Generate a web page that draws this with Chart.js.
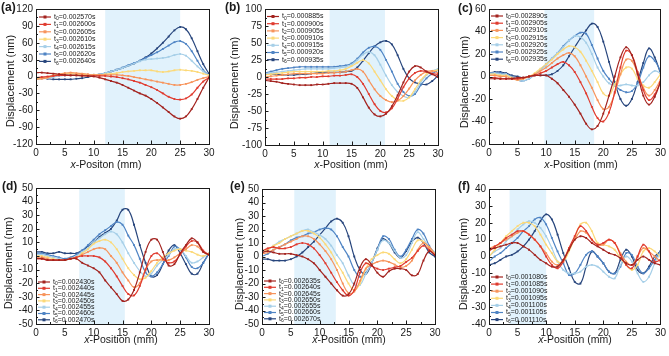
<!DOCTYPE html>
<html>
<head>
<meta charset="utf-8">
<script src="https://cdn.jsdelivr.net/npm/chart.js@4.4.1/dist/chart.umd.min.js"></script>
<style>
  html, body { margin: 0; padding: 0; background: #fff; }
  #wrap { position: relative; width: 669px; height: 356px; overflow: hidden; }
  #wrap canvas { position: absolute; left: 0; top: 0; }
</style>
</head>
<body>
<div id="wrap">
  <canvas id="pa" width="669" height="356"></canvas>
  <canvas id="pb" width="669" height="356"></canvas>
  <canvas id="pc" width="669" height="356"></canvas>
  <canvas id="pd" width="669" height="356"></canvas>
  <canvas id="pe" width="669" height="356"></canvas>
  <canvas id="pf" width="669" height="356"></canvas>
</div>
<script>
// x-positions (mm), shared by all panels
const xPos = [0, 1, 2, 3, 4, 5, 6, 7, 8, 9, 10, 11, 12, 13, 14, 15, 16, 17, 18, 19, 20, 21, 22, 23, 24, 25, 26, 27, 28, 29, 30];

// (a)
const aTimes = ['0.002570', '0.002600', '0.002605', '0.002610', '0.002615', '0.002620', '0.002640'];
const aBand = [12, 25];
const aYAxis = [-120, 120, 30];
const a0 = [7, 7, 6, 5, 4, 3, 2, 2, 1, 1, 0, -2, -5, -8, -11, -15, -20, -25, -30, -34, -40, -47, -55, -63, -71, -75, -71, -58, -40, -20, -2];
const a1 = [-2, -1, 0, 1, 2, 2, 2, 2, 2, 1, 1, 1, 1, 0, -1, -3, -5, -8, -11, -15, -19, -24, -30, -36, -40, -41, -39, -32, -20, -9, -2];
const a2 = [-5, -4, -2, 1, 4, 6, 7, 6, 5, 4, 3, 3, 3, 3, 3, 2, 1, -1, -3, -5, -7, -9, -11, -13, -15, -15, -13, -10, -6, -3, 0];
const a3 = [-4, -3, -1, 2, 4, 5, 5, 4, 4, 3, 3, 3, 4, 5, 6, 8, 9, 10, 11, 11, 11, 9, 8, 9, 11, 12, 11, 10, 8, 5, 2];
const a4 = [-5, -4, -3, -1, 1, 2, 3, 3, 3, 3, 3, 4, 6, 9, 12, 15, 19, 23, 27, 30, 31, 32, 33, 35, 38, 40, 37, 28, 18, 9, 2];
const a5 = [-3, -2, -1, 1, 2, 2, 3, 3, 3, 3, 3, 4, 6, 9, 12, 16, 20, 24, 28, 33, 38, 43, 49, 55, 61, 63, 58, 45, 28, 12, 2];
const a6 = [-3, -3, -4, -5, -5, -5, -5, -4, -3, -1, 1, 3, 6, 9, 12, 15, 19, 23, 28, 34, 41, 50, 60, 71, 82, 88, 84, 68, 45, 22, 5];

// (b)
const bTimes = ['0.000885', '0.000900', '0.000905', '0.000910', '0.000915', '0.000920', '0.000935'];
const bBand = [11.2, 20.8];
const bYAxis = [-100, 100, 25];
const b0 = [-5, -6, -7, -9, -10, -11, -12, -12, -12, -11, -11, -10, -9, -9, -9, -10, -16, -30, -45, -55, -58, -54, -43, -27, -8, 8, 16, 14, 8, 4, 0];
const b1 = [-3, -3, -3, -3, -2, -2, -1, -1, 0, 0, 1, 1, 2, 2, 3, 4, 0, -10, -25, -40, -50, -52, -46, -32, -15, -2, 6, 9, 8, 5, 4];
const b2 = [0, 1, 2, 3, 4, 5, 5, 5, 5, 5, 5, 6, 6, 7, 8, 10, 12, 8, -5, -18, -28, -34, -37, -35, -28, -17, -5, 3, 8, 9, 6];
const b3 = [3, 4, 5, 6, 7, 8, 8, 8, 8, 8, 8, 9, 9, 10, 12, 16, 21, 25, 20, 8, -5, -18, -28, -34, -35, -30, -18, -5, 4, 9, 10];
const b4 = [5, 6, 7, 8, 9, 10, 11, 12, 12, 12, 12, 12, 13, 14, 15, 18, 25, 33, 37, 32, 18, 2, -12, -22, -28, -30, -22, -8, 3, 9, 12];
const b5 = [6, 8, 10, 12, 13, 14, 15, 15, 15, 15, 15, 15, 15, 16, 17, 20, 27, 36, 43, 45, 40, 25, 8, -10, -22, -28, -25, -12, -2, 5, 10];
const b6 = [4, 4, 4, 3, 3, 3, 4, 4, 5, 6, 7, 7, 7, 7, 8, 9, 14, 24, 35, 45, 51, 53, 48, 32, 12, -2, -8, -10, -11, -6, 2];

// (c)
const cTimes = ['0.002890', '0.002905', '0.002910', '0.002915', '0.002920', '0.002925', '0.002935'];
const cBand = [9.7, 18.4];
const cYAxis = [-60, 60, 20];
const c0 = [-2, -2, -2, -2, -2, -1, -1, 0, 1, 1, 1, -2, -6, -12, -18, -25, -33, -42, -47, -44, -33, -17, 0, 17, 26, 19, 2, -17, -25, -18, -5];
const c1 = [-1, -1, -2, -2, -2, -2, -1, 0, 1, 3, 5, 8, 11, 13, 10, 4, -5, -15, -27, -37, -40, -32, -14, 8, 23, 19, 4, -12, -21, -16, -5];
const c2 = [1, 1, 0, 0, -2, -3, -2, 0, 2, 5, 8, 12, 16, 19, 21, 18, 10, 0, -10, -21, -29, -27, -15, 2, 15, 14, 3, -10, -17, -12, -3];
const c3 = [2, 2, 1, 1, -1, -3, -2, 0, 3, 7, 11, 15, 20, 24, 27, 26, 22, 14, 5, -5, -15, -17, -7, 2, 8, 7, -2, -8, -10, -5, 2];
const c4 = [3, 3, 2, 2, -1, -3, -4, -2, 2, 6, 10, 16, 21, 26, 32, 36, 35, 30, 20, 8, 0, -6, -8, -8, -7, -8, -8, -5, 1, 5, 3];
const c5 = [3, 3, 3, 2, 0, -3, -4, -2, 2, 6, 11, 16, 21, 27, 32, 36, 39, 38, 28, 16, 5, -2, -8, -12, -14, -13, -6, 8, 18, 14, 5];
const c6 = [3, 4, 4, 3, 1, 0, -1, 0, 1, 1, 1, 2, 5, 10, 18, 26, 34, 41, 47, 44, 31, 13, -5, -20, -26, -20, -5, 12, 25, 17, 3];

// (d)
const dTimes = ['0.002430', '0.002440', '0.002445', '0.002450', '0.002455', '0.002460', '0.002470'];
const dBand = [7.5, 15.4];
const dYAxis = [-50, 50, 10];
const d0 = [-2, -2, -3, -3, -3, -3, -2, -2, -5, -7, -9, -12, -18, -23, -28, -33, -32, -25, -12, 3, 12, 12, 3, -7, -6, 2, 8, 13, 10, 3, 1];
const d1 = [-2, -2, -3, -3, -3, -3, -2, -1, 0, 0, 0, -1, -4, -9, -15, -22, -28, -29, -22, -10, 0, 2, -2, -5, -4, 1, 7, 11, 10, 4, 1];
const d2 = [-1, -1, -2, -3, -3, -3, -2, -1, 1, 3, 5, 6, 5, 0, -5, -12, -18, -23, -20, -10, -4, -3, -3, -3, -1, 2, 5, 8, 7, 3, 1];
const d3 = [0, 0, -1, -2, -3, -3, -2, -1, 2, 5, 9, 11, 12, 10, 5, -2, -9, -14, -17, -16, -11, -5, -1, 2, 4, 5, 4, 3, 1, 0, 2];
const d4 = [1, 1, 0, -1, -2, -3, -2, 0, 3, 6, 10, 13, 16, 18, 16, 10, 2, -5, -11, -15, -13, -7, -3, 1, 5, 5, 0, -5, -4, -1, 2];
const d5 = [2, 2, 1, 0, -1, -2, -1, 1, 4, 8, 12, 16, 19, 22, 25, 23, 15, 8, -2, -12, -15, -12, -6, 0, 7, 5, -1, -8, -9, -5, 2];
const d6 = [3, 3, 2, 2, 3, 2, 2, 2, 4, 7, 10, 14, 17, 20, 26, 34, 34, 23, 8, -5, -15, -14, -6, 4, 8, 2, -6, -13, -13, -5, 2];

// (e)
const eTimes = ['0.002635', '0.002640', '0.002645', '0.002650', '0.002655', '0.002660', '0.002670'];
const eBand = [5.6, 12.8];
const eYAxis = [-50, 50, 10];
const e0 = [3, 4, 3, 2, 2, 2, 1, 0, -2, -5, -10, -15, -20, -25, -29, -28, -20, -8, -2, -6, -12, -15, -11, -9, -9, -10, -14, -13, -3, 4, 1];
const e1 = [4, 6, 7, 6, 6, 7, 9, 10, 9, 6, 1, -5, -12, -19, -25, -29, -25, -12, -5, -7, -9, -10, -9, -8, -7, -4, -1, 4, 8, 5, 1];
const e2 = [2, 3, 5, 7, 9, 11, 13, 15, 15, 13, 9, 4, -2, -10, -20, -27, -26, -18, -9, -6, -4, -3, -4, -6, -8, -7, -3, 5, 10, 7, 2];
const e3 = [3, 5, 8, 10, 13, 15, 17, 19, 19, 17, 14, 9, 3, -5, -12, -20, -25, -20, -9, -2, 1, 3, 2, -2, -5, -2, 5, 12, 11, 6, 2];
const e4 = [3, 5, 8, 11, 13, 15, 17, 19, 20, 18, 16, 13, 8, 1, -5, -14, -21, -21, -13, -5, 5, 12, 10, 4, -1, 1, 10, 18, 13, 7, 3];
const e5 = [0, 2, 5, 7, 9, 12, 14, 15, 17, 18, 20, 21, 20, 15, 7, 0, -10, -15, -12, -5, 5, 15, 13, 5, 0, 5, 13, 20, 17, 8, 2];
const e6 = [-2, -2, -3, -3, -3, -2, 0, 3, 7, 11, 16, 21, 26, 28, 25, 15, 0, -10, -13, -5, 6, 13, 10, 3, -1, 4, 11, 14, 10, 3, 0];

// (f)
const fTimes = ['0.001080', '0.001085', '0.001090', '0.001095', '0.001100', '0.001105', '0.001110'];
const fBand = [3.6, 10.0];
const fYAxis = [-40, 40, 10];
const f0 = [4, 5, 6, 7, 8, 8, 6, 4, 1, -2, -4, -6, -6, -2, 4, 10, 12, 11, 8, 6, 4, 2, 1, -1, -4, -5, -2, 0, -2, -4, -5];
const f1 = [3, 6, 8, 11, 13, 15, 15, 13, 10, 6, 0, -5, -7, -3, 5, 12, 18, 15, 10, 7, 8, 10, 8, 1, -5, -7, 0, 7, 3, -3, -2];
const f2 = [5, 6, 8, 10, 12, 14, 15, 13, 10, 6, 2, -3, -5, -2, 5, 10, 15, 14, 10, 7, 7, 10, 8, 2, -3, -5, 0, 5, 3, 0, -3];
const f3 = [0, 4, 8, 12, 15, 18, 20, 20, 18, 13, 7, 2, -3, -3, 3, 11, 19, 20, 15, 8, 7, 6, 4, -1, -5, -8, -5, 3, 5, 3, 0];
const f4 = [0, 3, 5, 9, 12, 16, 19, 21, 20, 17, 12, 5, -3, -8, -10, -10, -9, -6, -5, -6, -9, -12, -13, -5, 0, -3, -10, -15, -12, -4, 2];
const f5 = [-3, 0, 2, 5, 8, 11, 15, 18, 22, 23, 19, 11, 3, -4, -11, -10, -5, 1, 3, 0, -4, -9, -10, -6, 2, 1, -6, -10, -7, -2, 3];
const f6 = [-5, -4, -2, 0, 1, 3, 6, 10, 15, 21, 25, 22, 13, 2, -7, -15, -16, -6, 3, 0, -4, -9, -10, -2, 4, 0, -8, -10, -6, 0, 3];

const COLORS = ['#a3231f', '#e03b2f', '#f7945c', '#fcd978', '#a6cfe8', '#4f84c4', '#27457c'];
const BAND_COLOR = '#e1f2fc';
const FONT = "'Liberation Sans', Arial, sans-serif";
const INK = '#1a1a1a';

// Rámeček, vnitřní ticky, titulky os, legenda s dolními indexy, písmeno panelu.
const panelPlugin = {
    id: 'panel',
    beforeDatasetsDraw(chart, args, o) {
        const { ctx, chartArea: a, scales: { x } } = chart;
        const x0 = x.getPixelForValue(o.band[0]);
        const x1 = x.getPixelForValue(o.band[1]);
        ctx.save();
        ctx.fillStyle = BAND_COLOR;
        ctx.fillRect(x0, a.top, x1 - x0, a.bottom - a.top);
        ctx.restore();
    },
    afterDraw(chart, args, o) {
        const { ctx, chartArea: a, scales: { x, y } } = chart;
        ctx.save();
        ctx.strokeStyle = INK;
        ctx.lineWidth = 1;
        ctx.strokeRect(Math.round(a.left) + 0.5, Math.round(a.top) + 0.5, Math.round(a.right - a.left), Math.round(a.bottom - a.top));

        // inward ticks (major + minor)
        ctx.beginPath();
        for (let v = 0; v <= 30; v += 2.5) {
            const px = Math.round(x.getPixelForValue(v)) + 0.5;
            const len = v % 5 === 0 ? 3.5 : 2;
            ctx.moveTo(px, a.bottom);
            ctx.lineTo(px, a.bottom - len);
        }
        const [ymin, ymax, ystep] = o.yAxis;
        for (let v = ymin; v <= ymax + 1e-9; v += ystep / 2) {
            const py = Math.round(y.getPixelForValue(v)) + 0.5;
            const major = Math.abs(((v - ymin) / ystep) - Math.round((v - ymin) / ystep)) < 1e-6;
            ctx.moveTo(a.left, py);
            ctx.lineTo(a.left + (major ? 3.5 : 2), py);
        }
        ctx.stroke();

        ctx.fillStyle = INK;
        // y title
        ctx.save();
        ctx.translate(o.yTitle[0], o.yTitle[1]);
        ctx.rotate(-Math.PI / 2);
        ctx.font = `11px ${FONT}`;
        ctx.textAlign = 'center';
        ctx.textBaseline = 'middle';
        ctx.fillText('Displacement (nm)', 0, 0);
        ctx.restore();

        // x title with italic x
        ctx.textBaseline = 'middle';
        ctx.textAlign = 'left';
        ctx.font = `italic 10.5px ${FONT}`;
        const wx = ctx.measureText('x').width;
        ctx.font = `10.5px ${FONT}`;
        const rest = o.xTitleText;
        const wr = ctx.measureText(rest).width;
        let tx = o.xTitle[0] - (wx + wr) / 2;
        ctx.font = `italic 10.5px ${FONT}`;
        ctx.fillText('x', tx, o.xTitle[1]);
        ctx.font = `10.5px ${FONT}`;
        ctx.fillText(rest, tx + wx, o.xTitle[1]);

        // panel letter
        ctx.font = `bold 12px ${FONT}`;
        ctx.textBaseline = 'top';
        ctx.fillText(o.letter, o.letterPos[0], o.letterPos[1]);

        // legend
        const [lx, ly, dy] = o.legend;
        chart.data.datasets.forEach((ds, i) => {
            const yy = ly + i * dy;
            ctx.strokeStyle = ds.borderColor;
            ctx.lineWidth = 1.2;
            ctx.beginPath();
            ctx.moveTo(lx, yy);
            ctx.lineTo(lx + 12, yy);
            ctx.stroke();
            ctx.fillStyle = ds.borderColor;
            ctx.fillRect(lx + 4.5, yy - 1.5, 3, 3);
            ctx.fillStyle = INK;
            ctx.textBaseline = 'middle';
            ctx.font = `7px ${FONT}`;
            let px = lx + 15;
            ctx.fillText('t', px, yy);
            px += ctx.measureText('t').width;
            ctx.font = `5px ${FONT}`;
            ctx.fillText(String(i), px, yy + 2);
            px += ctx.measureText(String(i)).width;
            ctx.font = `7px ${FONT}`;
            ctx.fillText('=' + o.times[i] + 's', px, yy);
        });
        ctx.restore();
    },
};

function panel(id, opts) {
    const [L, R, T, B] = opts.area;
    const [ymin, ymax, ystep] = opts.yAxis;
    const series = opts.series;
    new Chart(document.getElementById(id), {
        type: 'line',
        data: {
            datasets: series.map((vals, i) => ({
                data: vals.map((v, k) => ({ x: xPos[k], y: v })),
                borderColor: COLORS[i],
                backgroundColor: COLORS[i],
                borderWidth: 1.2,
                pointRadius: 1.3,
                pointBorderWidth: 0,
                pointStyle: 'rect',
                tension: 0.4,
                fill: false,
            })),
        },
        options: {
            responsive: false,
            animation: false,
            devicePixelRatio: 1,
            events: [],
            layout: { padding: { left: L - 30, right: 669 - R, top: T, bottom: 356 - B - 20 } },
            plugins: {
                legend: { display: false },
                tooltip: { enabled: false },
                panel: opts,
            },
            scales: {
                x: {
                    type: 'linear', min: 0, max: 30,
                    afterFit: (s) => { s.height = 20; },
                    grid: { display: false, drawTicks: false },
                    border: { display: false },
                    ticks: { stepSize: 5, padding: 3, color: INK, autoSkip: false, maxRotation: 0, font: { family: FONT, size: 10 } },
                },
                y: {
                    min: ymin, max: ymax,
                    afterFit: (s) => { s.width = 30; },
                    grid: { display: false, drawTicks: false },
                    border: { display: false },
                    ticks: { stepSize: ystep, padding: 3, color: INK, autoSkip: false, font: { family: FONT, size: 10 } },
                },
            },
        },
        plugins: [panelPlugin],
    });
}

panel('pa', { area: [36, 209, 9, 144], yAxis: aYAxis, band: aBand, times: aTimes, series: [a0, a1, a2, a3, a4, a5, a6],
    yTitle: [10.5, 81], xTitle: [106, 165], xTitleText: '-Positon (mm)', letter: '(a)', letterPos: [1, 2], legend: [39, 17, 7.4] });
panel('pb', { area: [265, 438, 9, 145], yAxis: bYAxis, band: bBand, times: bTimes, series: [b0, b1, b2, b3, b4, b5, b6],
    yTitle: [235, 83], xTitle: [351, 165], xTitleText: '-Position (mm)', letter: '(b)', letterPos: [225, 2], legend: [267, 16.5, 7.2] });
panel('pc', { area: [489, 663, 9, 144], yAxis: cYAxis, band: cBand, times: cTimes, series: [c0, c1, c2, c3, c4, c5, c6],
    yTitle: [465, 82], xTitle: [581, 165], xTitleText: '-Position (mm)', letter: '(c)', letterPos: [458, 3], legend: [491, 16, 7.2] });
panel('pd', { area: [36, 209, 188, 324], yAxis: dYAxis, band: dBand, times: dTimes, series: [d0, d1, d2, d3, d4, d5, d6],
    yTitle: [9, 263], xTitle: [121, 340], xTitleText: '-Position (mm)', letter: '(d)', letterPos: [2, 181], legend: [38, 282, 6.3] });
panel('pe', { area: [262, 435, 189, 324], yAxis: eYAxis, band: eBand, times: eTimes, series: [e0, e1, e2, e3, e4, e5, e6],
    yTitle: [240, 264], xTitle: [349, 340], xTitleText: '-Position (mm)', letter: '(e)', letterPos: [230, 181], legend: [264, 281, 6.3] });
panel('pf', { area: [489, 662, 189, 324], yAxis: fYAxis, band: fBand, times: fTimes, series: [f0, f1, f2, f3, f4, f5, f6],
    yTitle: [463.5, 264], xTitle: [575, 340], xTitleText: '-Position (mm)', letter: '(f)', letterPos: [458, 181], legend: [491, 277, 7.1] });
</script>
</body>
</html>
